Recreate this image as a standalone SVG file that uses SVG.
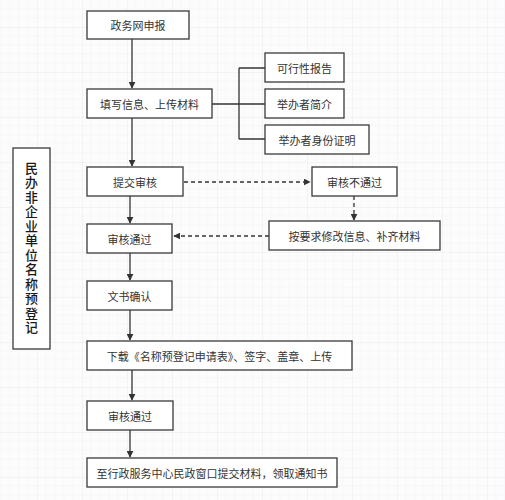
<svg xmlns="http://www.w3.org/2000/svg" width="505" height="500" viewBox="0 0 505 500">
<defs>
<style>
.box{fill:#ffffff;stroke:#3a3a3a;stroke-width:1.3}
.t{font-family:"Noto Sans CJK SC","Noto Sans CJK TC",sans-serif;font-size:11px;fill:#333;text-anchor:middle;dominant-baseline:central}
.v{font-family:"Noto Sans CJK SC",sans-serif;font-size:13px;fill:#1a1a1a;font-weight:500;writing-mode:vertical-rl;text-orientation:upright;letter-spacing:1.5px}
.ln{fill:none;stroke:#333;stroke-width:1.3}
.dash{fill:none;stroke:#333;stroke-width:1.3;stroke-dasharray:4 3}
</style>
<marker id="ah" viewBox="0 0 10 10" refX="9" refY="5" markerWidth="7" markerHeight="7" markerUnits="userSpaceOnUse" orient="auto">
<path d="M0,0 L10,5 L0,10 z" fill="#333"/>
</marker>
<pattern id="grid" width="45" height="45" patternUnits="userSpaceOnUse" x="-8" y="-18">
<path d="M45,0 L0,0 L0,45" fill="none" stroke="#e6e9ee" stroke-width="1"/>
<path d="M9,0 V45 M18,0 V45 M27,0 V45 M36,0 V45 M0,9 H45 M0,18 H45 M0,27 H45 M0,36 H45" fill="none" stroke="#f3f4f7" stroke-width="0.6"/>
</pattern>
</defs>
<rect width="505" height="500" fill="#fcfcfd"/>
<rect width="505" height="500" fill="url(#grid)"/>

<g id="connectors">
<path class="ln" d="M132,39 V88" marker-end="url(#ah)"/>
<path class="ln" d="M212,104 H265 M239,68 V139 M239,68 H265 M239,139 H265"/>
<path class="ln" d="M132,118 V166" marker-end="url(#ah)"/>
<path class="dash" d="M184,182 H310" marker-end="url(#ah)"/>
<path class="dash" d="M354,196 V220" marker-end="url(#ah)"/>
<path class="dash" d="M269,236 H174" marker-end="url(#ah)"/>
<path class="ln" d="M130,196 V223" marker-end="url(#ah)"/>
<path class="ln" d="M130,253 V280" marker-end="url(#ah)"/>
<path class="ln" d="M130,310 V340" marker-end="url(#ah)"/>
<path class="ln" d="M132,370 V400" marker-end="url(#ah)"/>
<path class="ln" d="M130,430 V457" marker-end="url(#ah)"/>
</g>

<g id="title">
<rect class="box" x="13" y="148" width="37" height="201"/>
<text class="v" x="31.5" y="161.5">民办非企业单位名称预登记</text>
</g>

<g id="n1"><rect class="box" x="87" y="11" width="102" height="28"/><text class="t" x="138" y="25">政务网申报</text></g>
<g id="n2"><rect class="box" x="87" y="89" width="125" height="29"/><text class="t" x="149.5" y="103.5">填写信息、上传材料</text></g>
<g id="n3"><rect class="box" x="265" y="53" width="79" height="29"/><text class="t" x="304.5" y="67.5">可行性报告</text></g>
<g id="n4"><rect class="box" x="265" y="89" width="79" height="29"/><text class="t" x="304.5" y="103.5">举办者简介</text></g>
<g id="n5"><rect class="box" x="265" y="125" width="104" height="29"/><text class="t" x="317" y="139.5">举办者身份证明</text></g>
<g id="n6"><rect class="box" x="87" y="167" width="96" height="29"/><text class="t" x="135" y="181.5">提交审核</text></g>
<g id="n7"><rect class="box" x="312" y="167" width="85" height="29"/><text class="t" x="354.5" y="181.5">审核不通过</text></g>
<g id="n8"><rect class="box" x="269" y="221" width="171" height="29"/><text class="t" x="354.5" y="235.5">按要求修改信息、补齐材料</text></g>
<g id="n9"><rect class="box" x="87" y="224" width="85" height="29"/><text class="t" x="129.5" y="238.5">审核通过</text></g>
<g id="n10"><rect class="box" x="87" y="281" width="85" height="29"/><text class="t" x="129.5" y="295.5">文书确认</text></g>
<g id="n11"><rect class="box" x="87" y="341" width="265" height="29"/><text class="t" x="219.5" y="355.5">下载《名称预登记申请表》、签字、盖章、上传</text></g>
<g id="n12"><rect class="box" x="87" y="401" width="86" height="29"/><text class="t" x="130" y="415.5">审核通过</text></g>
<g id="n13"><rect class="box" x="87" y="458" width="250" height="29"/><text class="t" x="212" y="472.5">至行政服务中心民政窗口提交材料，领取通知书</text></g>
</svg>
